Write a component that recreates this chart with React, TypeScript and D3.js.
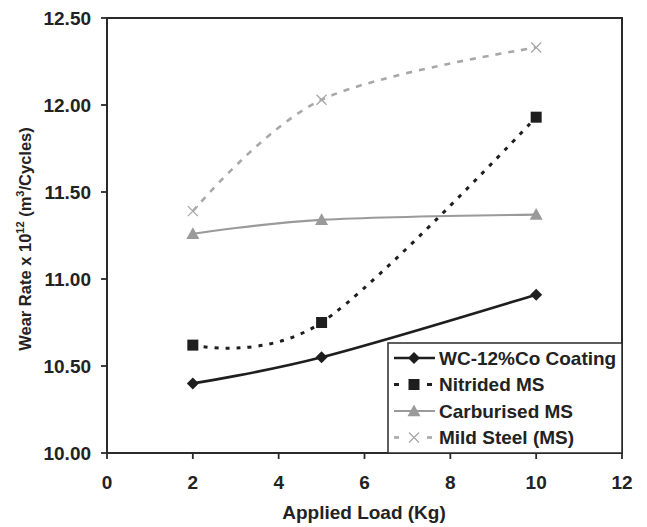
import React from "react";
import * as d3 from "d3";

const loads = [2, 5, 10];
const wcCoating = [10.4, 10.55, 10.91];
const nitridedMS = [10.62, 10.75, 11.93];
const carburisedMS = [11.26, 11.34, 11.37];
const mildSteel = [11.39, 12.03, 12.33];
const seriesNames = ["WC-12%Co Coating", "Nitrided MS", "Carburised MS", "Mild Steel (MS)"];
const xTicks = [0, 2, 4, 6, 8, 10, 12];
const yTicks = [10.0, 10.5, 11.0, 11.5, 12.0, 12.5];

const W = 647, H = 527;
const L = 107, R = 622, T = 18, B = 453;
const FONT = "'Liberation Sans', Arial, sans-serif";
const SX = 1.055;

type Style = { color: string; width: number; dash?: string; marker: string };
const styles: Style[] = [
  { color: "#1e1e1e", width: 2.6, marker: "diamond" },
  { color: "#1e1e1e", width: 3, dash: "4 7", marker: "square" },
  { color: "#9a9a9a", width: 2.2, marker: "triangle" },
  { color: "#a8a8a8", width: 2.6, dash: "6 7", marker: "x" },
];

function Marker({ kind, x, y, color }: { kind: string; x: number; y: number; color: string }) {
  if (kind === "diamond") {
    const s = 6;
    return <path d={`M${x},${y - s}L${x + s},${y}L${x},${y + s}L${x - s},${y}Z`} fill={color} />;
  }
  if (kind === "square") {
    const s = 5.5;
    return <rect x={x - s} y={y - s} width={2 * s} height={2 * s} fill={color} />;
  }
  if (kind === "triangle") {
    const s = 6.5;
    return <path d={`M${x},${y - s}L${x + s},${y + s * 0.8}L${x - s},${y + s * 0.8}Z`} fill={color} />;
  }
  const s = 5;
  return (
    <path d={`M${x - s},${y - s}L${x + s},${y + s}M${x + s},${y - s}L${x - s},${y + s}`} stroke={color} strokeWidth={1.3} fill="none" />
  );
}

function T2({ x, y, anchor, size, children }: { x: number; y: number; anchor?: string; size: number; children: React.ReactNode }) {
  return (
    <text transform={`translate(${x},${y}) scale(${SX},1)`} textAnchor={anchor || "start"} fontSize={size} fontWeight="bold" fill="#222">
      {children}
    </text>
  );
}

export default function App() {
  const x = d3.scaleLinear().domain([0, 12]).range([L, R]);
  const y = d3.scaleLinear().domain([10, 12.5]).range([B, T]);
  const allSeries = [wcCoating, nitridedMS, carburisedMS, mildSteel];
  const line = d3
    .line<[number, number]>()
    .x((d) => x(d[0]))
    .y((d) => y(d[1]))
    .curve(d3.curveCardinal.tension(0));

  const legX = 388, legY = 343, legW = R - 388, legH = B - 343;
  const rowY = [358, 384.5, 411, 437.5];

  return (
    <svg width={W} height={H} style={{ position: "absolute", left: 0, top: 0, background: "#fff" }} fontFamily={FONT}>
      <rect x={0} y={0} width={W} height={H} fill="#fff" />
      {allSeries.map((vals, i) => {
        const pts = loads.map((l, j) => [l, vals[j]] as [number, number]);
        const st = styles[i];
        return (
          <g key={i}>
            <path d={line(pts) || ""} fill="none" stroke={st.color} strokeWidth={st.width} strokeDasharray={st.dash} />
            {pts.map((p, j) => (
              <Marker key={j} kind={st.marker} x={x(p[0])} y={y(p[1])} color={st.color} />
            ))}
          </g>
        );
      })}
      <rect x={L} y={T} width={R - L} height={B - T} fill="none" stroke="#2a2a2a" strokeWidth={2} />
      {xTicks.map((t) => (
        <g key={t}>
          <line x1={x(t)} x2={x(t)} y1={B} y2={B + 6} stroke="#2a2a2a" strokeWidth={1.8} />
          <T2 x={x(t)} y={489} anchor="middle" size={18}>{t}</T2>
        </g>
      ))}
      {yTicks.map((t) => (
        <g key={t}>
          <line x1={L - 6} x2={L} y1={y(t)} y2={y(t)} stroke="#2a2a2a" strokeWidth={1.8} />
          <T2 x={91} y={y(t) + 6.5} anchor="end" size={18}>{t.toFixed(2)}</T2>
        </g>
      ))}
      <T2 x={364} y={519} anchor="middle" size={18}>Applied Load (Kg)</T2>
      <text transform={`translate(31,239) rotate(-90)`} textAnchor="middle" fontSize={16.5} fontWeight="bold" fill="#222">
        Wear Rate x 10
        <tspan dy={-7} fontSize={11}>12</tspan>
        <tspan dy={7}> (m</tspan>
        <tspan dy={-7} fontSize={11}>3</tspan>
        <tspan dy={7}>/Cycles)</tspan>
      </text>
      <rect x={legX} y={legY} width={legW} height={legH} fill="#fff" stroke="#2a2a2a" strokeWidth={1.5} />
      {seriesNames.map((name, i) => {
        const st = styles[i];
        const cy = rowY[i];
        return (
          <g key={name}>
            {st.dash ? (
              <g>
                <line x1={394} x2={399} y1={cy} y2={cy} stroke={st.color} strokeWidth={st.width} />
                <line x1={427} x2={432} y1={cy} y2={cy} stroke={st.color} strokeWidth={st.width} />
              </g>
            ) : (
              <line x1={394} x2={435} y1={cy} y2={cy} stroke={st.color} strokeWidth={st.width} />
            )}
            <Marker kind={st.marker} x={414} y={cy} color={st.color} />
            <T2 x={439} y={cy + 6.5} size={18}>{name}</T2>
          </g>
        );
      })}
    </svg>
  );
}
